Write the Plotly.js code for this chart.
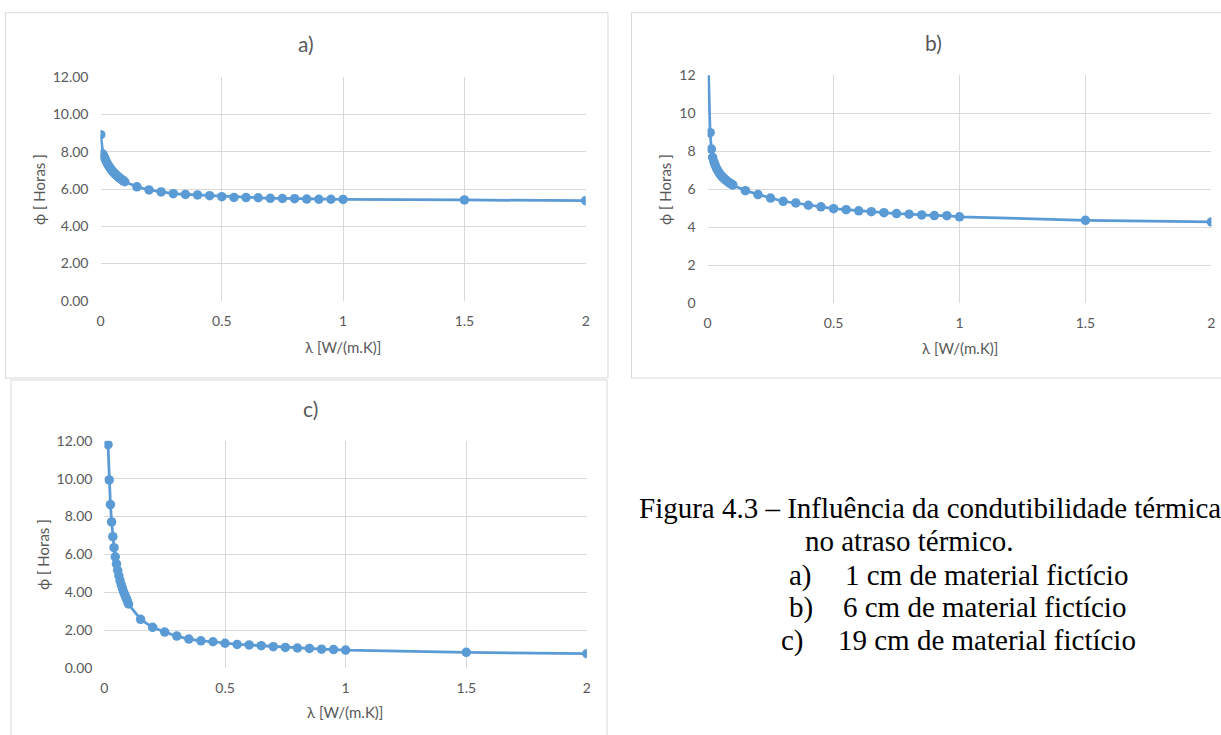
<!DOCTYPE html>
<html>
<head>
<meta charset="utf-8">
<script src="https://cdn.plot.ly/plotly-3.0.1.min.js"></script>
<style>html,body{margin:0;padding:0;background:#fff;}#chart{width:1221px;height:735px;}</style>
</head>
<body>
<div id="chart"></div>
<script>
// ---- data ----
const xA = [0.001,0.01,0.015,0.02,0.025,0.03,0.035,0.04,0.045,0.05,0.055,0.06,0.065,0.07,0.075,0.08,0.085,0.09,0.095,0.1,0.15,0.2,0.25,0.3,0.35,0.4,0.45,0.5,0.55,0.6,0.65,0.7,0.75,0.8,0.85,0.9,0.95,1,1.5,2];
const yA = [8.92,7.88,7.72,7.58,7.45,7.33,7.22,7.12,7.03,6.95,6.88,6.81,6.75,6.69,6.63,6.58,6.53,6.48,6.44,6.39,6.12,5.95,5.84,5.75,5.71,5.68,5.64,5.59,5.55,5.54,5.53,5.50,5.49,5.48,5.46,5.45,5.45,5.44,5.41,5.37];

const xB = [0.001,0.01,0.015,0.02,0.025,0.03,0.035,0.04,0.045,0.05,0.055,0.06,0.065,0.07,0.075,0.08,0.085,0.09,0.095,0.1,0.15,0.2,0.25,0.3,0.35,0.4,0.45,0.5,0.55,0.6,0.65,0.7,0.75,0.8,0.85,0.9,0.95,1,1.5,2];
const yB = [13.5,8.98,8.12,7.68,7.45,7.27,7.12,6.99,6.88,6.79,6.71,6.64,6.57,6.51,6.45,6.40,6.35,6.31,6.27,6.23,5.93,5.72,5.54,5.37,5.28,5.16,5.08,4.98,4.93,4.87,4.82,4.77,4.72,4.69,4.65,4.62,4.61,4.55,4.37,4.28];

const xC = [0.015,0.02,0.025,0.03,0.035,0.04,0.045,0.05,0.055,0.06,0.065,0.07,0.075,0.08,0.085,0.09,0.095,0.1,0.15,0.2,0.25,0.3,0.35,0.4,0.45,0.5,0.55,0.6,0.65,0.7,0.75,0.8,0.85,0.9,0.95,1,1.5,2];
const yC = [11.79,9.93,8.63,7.72,6.94,6.36,5.88,5.50,5.17,4.88,4.62,4.40,4.20,4.02,3.86,3.71,3.55,3.39,2.58,2.16,1.91,1.70,1.54,1.45,1.40,1.32,1.26,1.23,1.19,1.14,1.10,1.07,1.05,1.01,0.99,0.96,0.84,0.77];

const panelTitles = ["a)", "b)", "c)"];
const xTitle = "λ [W/(m.K)]";
const yTitle = "ϕ [ Horas ]";
const captionLines = ["Figura 4.3 – Influência da condutibilidade térmica", "no atraso térmico."];
const listLabels = ["a)", "b)", "c)"];
const listItems = ["1 cm de material fictício", "6 cm de material fictício", "19 cm de material fictício"];
const xTicks = [0, 0.5, 1, 1.5, 2];
const xTickText = ["0", "0.5", "1", "1.5", "2"];

// ---- layout helpers ----
const W = 1221, H = 735;
const fx = p => p / W;
const fy = p => 1 - p / H;
const BLUE = '#5B9BD5', GRID = '#d9d9d9', TXT = '#595959';
const FONT = 'Lato, "Open Sans", sans-serif';
const SERIF = '"Liberation Serif", "Times New Roman", serif';

function trace(x, y, xa, ya) {
  return {x: x, y: y, xaxis: xa, yaxis: ya, type: 'scatter', mode: 'lines+markers',
    line: {color: BLUE, width: 2.75}, marker: {color: BLUE, size: 9.5},
    hoverinfo: 'skip', showlegend: false, cliponaxis: true};
}

function xax(l, r, anchor) {
  return {domain: [fx(l), fx(r)], anchor: anchor, range: [0, 2], tickvals: xTicks, ticktext: xTickText,
    showgrid: true, gridcolor: GRID, gridwidth: 1, zeroline: false, showline: false, ticks: '',
    ticklabelstandoff: 10, tickfont: {family: FONT, size: 14, color: TXT}, fixedrange: true};
}
function yax(top, bottom, anchor, fmt) {
  return {domain: [fy(bottom), fy(top)], anchor: anchor, range: [0, 12], dtick: 2, tick0: 0, tickformat: fmt,
    showgrid: true, gridcolor: GRID, gridwidth: 1, zeroline: false, showline: false, ticks: '',
    ticklabelstandoff: 11, tickfont: {family: FONT, size: 14, color: TXT}, fixedrange: true};
}

const data = [trace(xA, yA, 'x', 'y'), trace(xB, yB, 'x2', 'y2'), trace(xC, yC, 'x3', 'y3')];

function ann(text, x, y, opts) {
  return Object.assign({text: text, x: fx(x), y: fy(y), xref: 'paper', yref: 'paper', showarrow: false,
    xanchor: 'center', yanchor: 'middle', font: {family: FONT, size: 15, color: TXT}}, opts || {});
}

const annotations = [
  ann(panelTitles[0], 306, 43, {font: {family: FONT, size: 21, color: TXT}}),
  ann(panelTitles[1], 933, 42, {font: {family: FONT, size: 21, color: TXT}}),
  ann(panelTitles[2], 310, 408, {font: {family: FONT, size: 21, color: TXT}}),
  ann(xTitle, 343, 347), ann(xTitle, 960, 348), ann(xTitle, 345, 712),
  ann(yTitle, 39, 190, {textangle: -90}), ann(yTitle, 665, 190, {textangle: -90}), ann(yTitle, 43, 555, {textangle: -90}),
  ann(captionLines[0], 637, 508, {xanchor: 'left', font: {family: SERIF, size: 29, color: '#000'}}),
  ann(captionLines[1], 909, 541, {font: {family: SERIF, size: 29, color: '#000'}}),
  ann(listLabels[0], 787, 575, {xanchor: 'left', font: {family: SERIF, size: 29, color: '#000'}}),
  ann(listItems[0], 843, 575, {xanchor: 'left', font: {family: SERIF, size: 29, color: '#000'}}),
  ann(listLabels[1], 787, 607, {xanchor: 'left', font: {family: SERIF, size: 29, color: '#000'}}),
  ann(listItems[1], 841, 607, {xanchor: 'left', font: {family: SERIF, size: 29, color: '#000'}}),
  ann(listLabels[2], 779, 640, {xanchor: 'left', font: {family: SERIF, size: 29, color: '#000'}}),
  ann(listItems[2], 836, 640, {xanchor: 'left', font: {family: SERIF, size: 29, color: '#000'}})
];

function box(l, t, r, b) {
  return {type: 'rect', xref: 'paper', yref: 'paper', x0: fx(l), x1: fx(r), y0: fy(b), y1: fy(t),
    line: {color: GRID, width: 1}, fillcolor: 'rgba(0,0,0,0)', layer: 'below'};
}

const layout = {
  width: W, height: H, margin: {l: 0, r: 0, t: 0, b: 0},
  paper_bgcolor: '#fff', plot_bgcolor: '#fff', showlegend: false,
  xaxis: xax(100.5, 585.7, 'y'), yaxis: yax(77.3, 300.7, 'x', '.2f'),
  xaxis2: xax(707.6, 1211.4, 'y2'), yaxis2: yax(75.3, 303.3, 'x2', 'd'),
  xaxis3: xax(104.4, 586.9, 'y3'), yaxis3: yax(440.7, 668.3, 'x3', '.2f'),
  annotations: annotations,
  shapes: [box(5.5, 12.7, 608, 378), box(631.5, 12.7, 1235, 378), box(11, 380, 607, 745)]
};

Plotly.newPlot('chart', data, layout, {staticPlot: true, displayModeBar: false});
</script>
</body>
</html>
